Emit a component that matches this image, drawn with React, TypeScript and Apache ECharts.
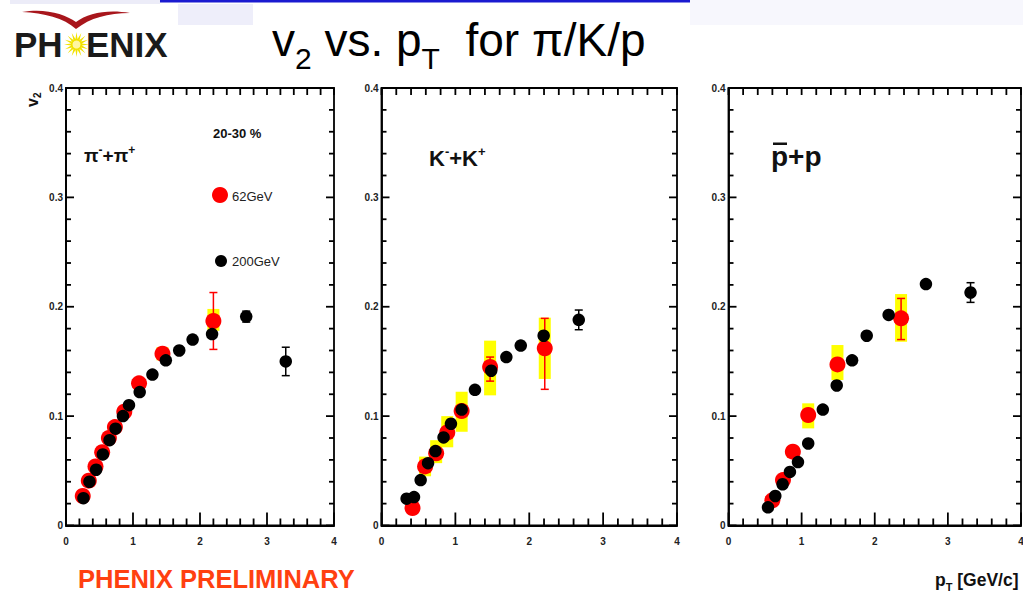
import React, { useEffect, useRef } from 'react';
import * as echarts from 'echarts';

// ---------------- data ----------------
const xTickLabels = ['0', '1', '2', '3', '4'];
const yTickLabels = ['0', '0.1', '0.2', '0.3', '0.4'];
const xMajorTicks = [0, 1, 2, 3, 4];
const xMinorTicks = [0.2, 0.4, 0.6, 0.8, 1.2, 1.4, 1.6, 1.8, 2.2, 2.4, 2.6, 2.8, 3.2, 3.4, 3.6, 3.8];
const yMajorTicks = [0, 0.1, 0.2, 0.3, 0.4];
const yMinorTicks = [0.02, 0.04, 0.06, 0.08, 0.12, 0.14, 0.16, 0.18, 0.22, 0.24, 0.26, 0.28, 0.32, 0.34, 0.36, 0.38];

// pi- + pi+
const pi200 = [[0.26, 0.025], [0.35, 0.040], [0.45, 0.051], [0.55, 0.065], [0.65, 0.078], [0.74, 0.0885], [0.85, 0.100], [0.94, 0.110], [1.10, 0.122], [1.29, 0.138], [1.49, 0.151], [1.69, 0.160], [1.89, 0.170], [2.18, 0.175], [2.69, 0.191], [3.28, 0.150]];
const pi200Err = [[2.69, 0.186, 0.196], [3.28, 0.137, 0.163]];
const pi62 = [[0.25, 0.027], [0.34, 0.041], [0.44, 0.054], [0.54, 0.067], [0.64, 0.080], [0.73, 0.090], [0.87, 0.104], [1.09, 0.130], [1.44, 0.157], [2.20, 0.187]];
const pi62Err = [[2.20, 0.161, 0.213]];
const pi62Sys = [[1.44, 0.151, 0.163], [2.20, 0.178, 0.198]];

// K- + K+
const k200 = [[0.34, 0.0245], [0.44, 0.026], [0.53, 0.0415], [0.63, 0.057], [0.73, 0.068], [0.84, 0.0805], [0.94, 0.093], [1.085, 0.106], [1.265, 0.124], [1.485, 0.1415], [1.69, 0.154], [1.885, 0.1645], [2.195, 0.1735], [2.67, 0.188]];
const k200Err = [[2.67, 0.179, 0.197]];
const k62 = [[0.42, 0.016], [0.59, 0.054], [0.74, 0.066], [0.89, 0.085], [1.085, 0.1047], [1.47, 0.145], [2.21, 0.162]];
const k62Err = [[1.47, 0.132, 0.154], [2.21, 0.1245, 0.1894]];
const k62Sys = [[0.59, 0.045, 0.063], [0.74, 0.057, 0.078], [0.89, 0.0715, 0.100], [1.085, 0.0857, 0.1223], [1.47, 0.119, 0.169], [2.21, 0.134, 0.190]];

// pbar + p
const p200 = [[0.54, 0.0166], [0.64, 0.027], [0.74, 0.0377], [0.84, 0.049], [0.95, 0.058], [1.09, 0.075], [1.29, 0.106], [1.48, 0.128], [1.69, 0.151], [1.89, 0.1735], [2.19, 0.1925], [2.70, 0.2207], [3.31, 0.213]];
const p200Err = [[3.31, 0.204, 0.222]];
const p62 = [[0.60, 0.023], [0.745, 0.0415], [0.88, 0.0675], [1.09, 0.101], [1.49, 0.1473], [2.36, 0.1894]];
const p62Err = [[2.36, 0.170, 0.2076]];
const p62Sys = [[0.88, 0.062, 0.072], [1.09, 0.0888, 0.1117], [1.49, 0.133, 0.165], [2.36, 0.168, 0.2116]];

const panels = [
  { s200: pi200, e200: pi200Err, s62: pi62, e62: pi62Err, sys: pi62Sys },
  { s200: k200, e200: k200Err, s62: k62, e62: k62Err, sys: k62Sys },
  { s200: p200, e200: p200Err, s62: p62, e62: p62Err, sys: p62Sys },
];

// ---------------- layout ----------------
const GRIDS = [
  { left: 66, top: 88, width: 268, height: 437.5 },
  { left: 381.5, top: 88, width: 295.5, height: 437.5 },
  { left: 728.5, top: 88, width: 292.5, height: 437.5 },
];

const SANS = '"Liberation Sans", Arial, sans-serif';
const INK = '#000000';
const TICK_W = 1.8;

const SWOOSH_D = 'M22 12 C45 8 65 14 76 22 C88 13 108 9 130 13 C108 13 90 18 76 29 C64 18 44 13 22 12 Z';
try {
  echarts.graphic.registerShape('phxSwoosh', echarts.graphic.extendPath(SWOOSH_D, {}) as any);
} catch (e) { /* already registered */ }

let measureCtx: CanvasRenderingContext2D | null = null;
function measure(t: string, font: string) {
  if (!measureCtx) measureCtx = document.createElement('canvas').getContext('2d');
  if (!measureCtx) return t.length * 8;
  measureCtx.font = font;
  return measureCtx.measureText(t).width;
}

type Piece = { t?: string; gap?: number; size: number; weight?: string; family?: string; dy?: number; fill?: string };
function runs(x0: number, base: number, pieces: Piece[], dflt: { weight: string; family: string; fill: string }) {
  const els: any[] = [];
  let x = x0;
  for (const p of pieces) {
    const font = `${p.weight || dflt.weight} ${p.size}px ${p.family || dflt.family}`;
    if (p.gap) { x += p.gap * measure(' ', font); continue; }
    els.push({
      type: 'text', x, y: base + (p.dy || 0) - 0.3465 * p.size, silent: true,
      style: { text: p.t, font, fill: p.fill || dflt.fill, align: 'left', verticalAlign: 'middle' },
    });
    x += measure(p.t || '', font);
  }
  return els;
}

function errRender(color: string) {
  return (params: any, api: any) => {
    const x = api.value(0);
    const lo = api.coord([x, api.value(1)]);
    const hi = api.coord([x, api.value(2)]);
    const cap = 4;
    const st = { stroke: color, lineWidth: 1.5 };
    return {
      type: 'group', children: [
        { type: 'line', shape: { x1: lo[0], y1: lo[1], x2: hi[0], y2: hi[1] }, style: st },
        { type: 'line', shape: { x1: lo[0] - cap, y1: lo[1], x2: lo[0] + cap, y2: lo[1] }, style: st },
        { type: 'line', shape: { x1: hi[0] - cap, y1: hi[1], x2: hi[0] + cap, y2: hi[1] }, style: st },
      ],
    };
  };
}

function sysRender(params: any, api: any) {
  const x = api.value(0);
  const lo = api.coord([x, api.value(1)]);
  const hi = api.coord([x, api.value(2)]);
  const hw = 6;
  return { type: 'rect', shape: { x: lo[0] - hw, y: hi[1], width: 2 * hw, height: lo[1] - hi[1] }, style: { fill: '#ffff00' } };
}

// ROOT-style inward ticks on all four edges, positioned with the chart's own axis scales
function buildTicks(chart: any) {
  const out: any[] = [];
  const w = TICK_W;
  const vRect = (x: number, y: number, h: number) =>
    out.push({ type: 'rect', silent: true, z: 100, shape: { x: x - w / 2, y: h > 0 ? y : y + h, width: w, height: Math.abs(h) }, style: { fill: INK } });
  const hRect = (x: number, y: number, len: number) =>
    out.push({ type: 'rect', silent: true, z: 100, shape: { x: len > 0 ? x : x + len, y: y - w / 2, width: Math.abs(len), height: w }, style: { fill: INK } });
  GRIDS.forEach((g, i) => {
    const px = (v: number[]) => {
      const r = chart.convertToPixel({ gridIndex: i }, v) as any;
      return Array.isArray(r) && isFinite(r[0]) && isFinite(r[1]) ? r : null;
    };
    const addX = (v: number, lenB: number, lenT: number) => {
      const b = px([v, 0]);
      const t = px([v, 0.4]);
      if (b) vRect(b[0], b[1], -lenB);
      if (t) vRect(t[0], t[1], lenT);
    };
    const addY = (v: number, len: number) => {
      const l = px([0, v]);
      const r = px([4, v]);
      if (l) hRect(l[0], l[1], len);
      if (r) hRect(r[0], r[1], -len);
    };
    xMajorTicks.forEach((v) => addX(v, 13, 7));
    xMinorTicks.forEach((v) => addX(v, 7, 7));
    yMajorTicks.forEach((v) => addY(v, 8));
    yMinorTicks.forEach((v) => addY(v, 5));
  });
  return out;
}

function buildOption() {
  const grid: any[] = [];
  const xAxis: any[] = [];
  const yAxis: any[] = [];
  const series: any[] = [];
  const line = { show: true, onZero: false, lineStyle: { color: INK, width: 1.8 } };
  GRIDS.forEach((g, i) => {
    grid.push({ ...g, outerBoundsMode: 'none', containLabel: false, show: true, borderColor: INK, borderWidth: 1.8, backgroundColor: 'transparent' });
    xAxis.push({
      type: 'value', gridIndex: i, min: 0, max: 4, interval: 1,
      axisLine: line, splitLine: { show: false }, axisTick: { show: false },
      axisLabel: { margin: 11, color: '#222', fontSize: 10, fontWeight: 'bold', formatter: (v: number) => xTickLabels[Math.round(v)] ?? '' },
    });
    yAxis.push({
      type: 'value', gridIndex: i, min: 0, max: 0.4, interval: 0.1,
      axisLine: line, splitLine: { show: false }, axisTick: { show: false },
      axisLabel: { margin: 3, color: '#222', fontSize: 10, fontWeight: 'bold', formatter: (v: number) => yTickLabels[Math.round(v * 10)] ?? '' },
    });
    const p = panels[i];
    const ax = { xAxisIndex: i, yAxisIndex: i };
    series.push({ type: 'custom', ...ax, renderItem: sysRender, data: p.sys, encode: { x: 0, y: [1, 2] }, silent: true });
    series.push({ type: 'custom', ...ax, renderItem: errRender('#ff0000'), data: p.e62, encode: { x: 0, y: [1, 2] }, silent: true });
    series.push({ type: 'scatter', ...ax, data: p.s62, symbol: 'circle', symbolSize: 16, itemStyle: { color: '#ff0000', opacity: 1 }, silent: true });
    series.push({ type: 'custom', ...ax, renderItem: errRender('#000000'), data: p.e200, encode: { x: 0, y: [1, 2] }, silent: true });
    series.push({ type: 'scatter', ...ax, data: p.s200, symbol: 'circle', symbolSize: 12.5, itemStyle: { color: '#000000', opacity: 1 }, silent: true });
  });

  const d = { weight: 'normal', family: SANS, fill: '#000' };
  const b = { weight: 'bold', family: SANS, fill: '#111' };

  // sunburst star of the logo
  const star: number[][] = [];
  const N = 16;
  for (let k = 0; k < 2 * N; k++) {
    const r = k % 2 === 0 ? 12.5 : 5.5;
    const a = (Math.PI * k) / N;
    star.push([76.5 + r * Math.cos(a), 44.5 + r * Math.sin(a)]);
  }

  const graphic: any[] = [
    // header decorations
    { type: 'rect', shape: { x: 10, y: 0, width: 150, height: 4 }, style: { fill: '#ececf8' }, silent: true },
    { type: 'rect', shape: { x: 160, y: 0, width: 681, height: 2.5 }, style: { fill: '#1a1ad0' }, silent: true },
    { type: 'rect', shape: { x: 178, y: 4, width: 75, height: 21 }, style: { fill: '#eeeefa' }, silent: true },
    { type: 'rect', shape: { x: 690, y: 0, width: 333, height: 25 }, style: { fill: '#f7f7fd' }, silent: true },
    // logo
    { type: 'phxSwoosh', x: 0, y: 0, scaleX: 1, scaleY: 1, style: { fill: '#a8161c' }, silent: true },
    ...runs(14, 57, [{ t: 'PH', size: 35 }], { weight: 'bold', family: SANS, fill: '#1a1a1a' }),
    { type: 'polygon', shape: { points: star }, style: { fill: '#f2e200' }, silent: true },
    { type: 'circle', shape: { cx: 76.5, cy: 44.5, r: 4 }, style: { fill: '#fff6a0' }, silent: true },
    ...runs(86, 57, [{ t: 'ENIX', size: 35 }], { weight: 'bold', family: SANS, fill: '#1a1a1a' }),
    // title
    ...runs(272, 56, [
      { t: 'v', size: 46 }, { t: '2', size: 30, dy: 13 }, { gap: 1, size: 46 },
      { t: 'vs.', size: 46 }, { gap: 1, size: 46 }, { t: 'p', size: 46 }, { t: 'T', size: 30, dy: 13 },
      { gap: 2, size: 46 }, { t: 'for', size: 46 }, { gap: 1, size: 46 }, { t: 'π/K/p', size: 46 },
    ], d),
    // y axis name v2 (rotated)
    { type: 'group', x: 38, y: 107, rotation: Math.PI / 2, silent: true,
      children: runs(0, 0, [{ t: 'v', size: 16 }, { t: '2', size: 10, dy: 3 }], b) },
    // panel 1 labels
    ...runs(84, 162, [{ t: 'π', size: 19 }, { t: '-', size: 12, dy: -8 }, { t: '+π', size: 19 }, { t: '+', size: 12, dy: -8 }], b),
    ...runs(213, 138, [{ t: '20-30 %', size: 13 }], b),
    { type: 'circle', shape: { cx: 220, cy: 195, r: 8 }, style: { fill: '#ff0000' }, silent: true },
    ...runs(232, 201.5, [{ t: '62GeV', size: 13 }], { weight: 'normal', family: SANS, fill: '#222' }),
    { type: 'circle', shape: { cx: 221, cy: 261, r: 6 }, style: { fill: '#000' }, silent: true },
    ...runs(232, 266.5, [{ t: '200GeV', size: 13 }], { weight: 'normal', family: SANS, fill: '#222' }),
    // panel 2 label
    ...runs(429, 166, [{ t: 'K', size: 22 }, { t: '-', size: 13, dy: -10 }, { t: '+K', size: 22 }, { t: '+', size: 13, dy: -10 }], b),
    // panel 3 label
    ...runs(771, 166, [{ t: 'p+p', size: 28 }], b),
    { type: 'rect', shape: { x: 773, y: 142.5, width: 14, height: 2.5 }, style: { fill: '#111' }, silent: true },
    // bottom texts
    ...runs(78, 587.5, [{ t: 'PHENIX PRELIMINARY', size: 25.5 }], { weight: 'bold', family: SANS, fill: '#ff4010' }),
    ...runs(935, 586, [{ t: 'p', size: 17.5 }, { t: 'T', size: 11, dy: 5 }, { gap: 1, size: 17.5 }, { t: '[GeV/c]', size: 17.5 }], b),
  ];

  return { animation: false, grid, xAxis, yAxis, series, graphic: { elements: graphic } };
}

export default function App() {
  const ref = useRef<HTMLDivElement>(null);
  useEffect(() => {
    if (!ref.current) return;
    const chart = echarts.init(ref.current, null, { renderer: 'svg' });
    const opt: any = buildOption();
    chart.setOption(opt);
    let ticks: any[] = [];
    try { ticks = buildTicks(chart); } catch (e) { ticks = []; }
    const full: any = buildOption();
    full.graphic = { elements: [...full.graphic.elements, ...ticks] };
    chart.setOption(full, true);
    return () => chart.dispose();
  }, []);
  return <div ref={ref} style={{ position: 'absolute', left: 0, top: 0, width: 1023, height: 593 }} />;
}
